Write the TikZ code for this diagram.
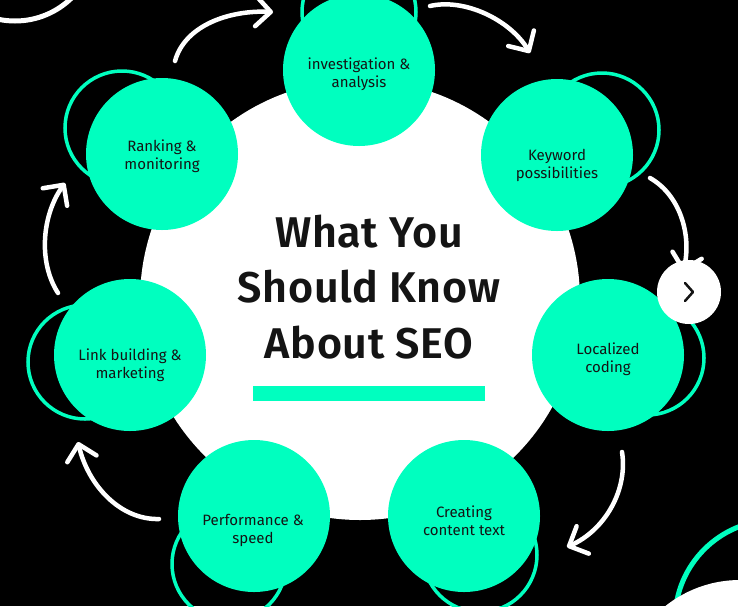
\documentclass[tikz,border=0pt]{standalone}
\usepackage{fontspec}
\setmainfont{Fira Sans}
\newfontfamily\titlefont{Fira Sans SemiBold}[LetterSpace=1.5]
\usetikzlibrary{arrows.meta}
\definecolor{teal1}{HTML}{00FFBF}
\definecolor{ink}{HTML}{141414}
\begin{document}
\begin{tikzpicture}[x=1pt,y=-1pt,
  tealc/.style={circle, fill=teal1, minimum size=152pt, inner sep=0pt},
  ringc/.style={draw=teal1, line width=3.5pt},
  lbl/.style={align=center, text=ink, font=\fontsize{15}{18}\selectfont, inner sep=0pt},
  ttl/.style={anchor=base, text=ink, font=\fontsize{43}{50}\selectfont\titlefont, inner sep=0pt},
  flow/.style={draw=white, line width=4.5pt, line cap=round, -{Straight Barb[length=15pt,width=30pt,round]}},
]
\fill[black] (0,0) rectangle (738,606);
\useasboundingbox (0,0) rectangle (738,606);

% decorative corners
\draw[white, line width=5pt] (15,-60) circle[radius=81];
\draw[teal1, line width=5pt] (775,620) circle[radius=100];
\fill[white] (740,700) circle[radius=120];

% hub
\node[circle, fill=white, minimum size=440pt, inner sep=0pt] (hub) at (360,300) {};

% rings
\draw[ringc] (359,12) circle[radius=57];
\draw[ringc] (602,130) circle[radius=57];
\draw[ringc] (647,358) circle[radius=57];
\draw[ringc] (480,555) circle[radius=57];
\draw[ringc] (229,564) circle[radius=57];
\draw[ringc] (85,362) circle[radius=57];
\draw[ringc] (122,128) circle[radius=57];

% teal circles
\node[tealc] (inv) at (359,70) {};
\node[tealc] (key) at (557,155) {};
\node[tealc] (loc) at (608,355) {};
\node[tealc] (cre) at (464,516) {};
\node[tealc] (per) at (254,516) {};
\node[tealc] (lnk) at (130,355) {};
\node[tealc] (rnk) at (162,154) {};

% labels
\node[lbl] (tinv) at (359,74) {investigation \&\\analysis};
\node[lbl] (tkey) at (557,165) {Keyword\\possibilities};
\node[lbl] (tloc) at (608,359) {Localized\\coding};
\node[lbl] (tcre) at (464,521) {Creating\\content text};
\node[lbl] (tper) at (253,530) {Performance \&\\speed};
\node[lbl] (tlnk) at (130,365) {Link building \&\\marketing};
\node[lbl] (trnk) at (162,156) {Ranking \&\\monitoring};

% title
\node[ttl] (t1) at (369,247) {What You};
\node[ttl] (t2) at (369,302) {Should Know};
\node[ttl] (t3) at (369,358) {About SEO};
\node[fill=teal1, minimum width=232pt, minimum height=15pt, inner sep=0pt] (bar) at (369,393.5) {};

% arrows
\coordinate (a1s) at (175,61);  \coordinate (a1e) at (273,12);
\coordinate (a2s) at (430,6);   \coordinate (a2e) at (530,53);
\coordinate (a3s) at (650,178); \coordinate (a3e) at (683,272);
\coordinate (a4s) at (622,452); \coordinate (a4e) at (567,547);
\coordinate (a6s) at (159,519); \coordinate (a6e) at (78,442);
\coordinate (a7s) at (58,293);  \coordinate (a7e) at (65,183);
\draw[flow] (a1s) .. controls (185,25) and (230,10) .. (a1e);
\draw[flow] (a2s) .. controls (465,-2) and (510,20) .. (a2e);
\draw[flow] (a3s) .. controls (680,195) and (692,235) .. (a3e);
\draw[flow] (a4s) .. controls (628,490) and (605,530) .. (a4e);
\draw[flow] (a6s) .. controls (120,520) and (88,485) .. (a6e);
\draw[flow] (a7s) .. controls (38,262) and (42,215) .. (a7e);

% next button
\node[circle, fill=white, minimum size=64pt, inner sep=0pt] (btn) at (689,292) {};
\draw[ink, line width=2.5pt, line cap=round, line join=round]
  ([shift={(-4,-9)}]btn.center) -- ++(8,9) -- ++(-8,9);
\end{tikzpicture}
\end{document}
